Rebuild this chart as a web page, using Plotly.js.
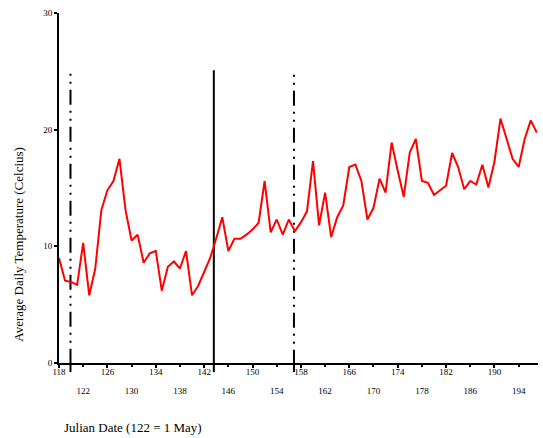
<!DOCTYPE html>
<html><head><meta charset="utf-8">
<script src="https://cdn.plot.ly/plotly-3.0.1.min.js"></script>
<style>html,body{margin:0;padding:0;background:#fff}#chart{width:543px;height:438px}</style>
</head><body><div id="chart"></div>
<script>
const days = [118,119,120,121,122,123,124,125,126,127,128,129,130,131,132,133,134,135,136,137,
  138,139,140,141,142,143,144,145,146,147,148,149,150,151,152,153,154,155,156,157,
  158,159,160,161,162,163,164,165,166,167,168,169,170,171,172,173,174,175,176,177,
  178,179,180,181,182,183,184,185,186,187,188,189,190,191,192,193,194,195,196,197];
const temps = [9.0,7.05,6.95,6.7,10.3,5.8,8.1,13.1,14.8,15.6,17.5,13.1,10.5,11.0,8.6,9.4,9.6,6.2,8.25,8.7,
  8.1,9.6,5.8,6.6,7.8,9.0,10.7,12.5,9.6,10.65,10.65,11.0,11.45,12.0,15.6,11.2,12.3,11.0,12.3,11.3,
  12.05,13.0,17.3,11.8,14.6,10.8,12.5,13.5,16.8,17.0,15.6,12.3,13.3,15.8,14.6,18.9,16.5,14.25,18.05,19.2,
  15.6,15.45,14.4,14.8,15.2,18.0,16.8,14.9,15.6,15.3,17.0,15.05,17.25,20.95,19.2,17.5,16.8,19.2,20.8,19.75];
const tickRow1 = [118,126,134,142,150,158,166,174,182,190];
const tickRow2 = [122,130,138,146,154,162,170,178,186,194];
const yTicks = [0,10,20,30];
const xRange = [118,197.2];
const yRange = [0,30];
const markerDays = [119.9,143.6,156.85];
const markerTops = [24.8,25.1,24.7];
const markerDash = ['2px,6px,2px,6px,15px,6px','solid','2px,6px,2px,6px,15px,6px'];
const yTitle = 'Average Daily Temperature (Celcius)';
const xTitle = 'Julian Date (122 = 1 May)';

const FONT = 'Liberation Serif, Times New Roman, serif';
const traces = [];
markerDays.forEach((d,i)=>{
  traces.push({x:[d,d], y:[markerTops[i],yRange[0]], mode:'lines', xaxis:'x', yaxis:'y',
    line:{color:'#000', width:2, dash:markerDash[i]}, hoverinfo:'skip', showlegend:false});
});
traces.push({x:days, y:temps, mode:'lines', line:{color:'#ff0000', width:2}, showlegend:false, xaxis:'x', yaxis:'y'});
traces.push({x:days, y:temps, mode:'lines', line:{color:'rgba(0,0,0,0)', width:0}, showlegend:false, xaxis:'x2', yaxis:'y', hoverinfo:'skip'});

const shapes = markerDays.map(d=>({type:'line', xref:'x', yref:'paper', x0:d, x1:d, y0:-0.026, y1:0,
  line:{color:'#000', width:2}}));

const axisCommon = {range:xRange, showgrid:false, zeroline:false, ticks:'outside', ticklen:3, tickwidth:2,
  tickcolor:'#000', tickfont:{family:FONT, size:9, color:'#000'}, tickmode:'array'};

const layout = {
  width:543, height:438, margin:{l:59, r:5, t:13, b:75},
  paper_bgcolor:'#fff', plot_bgcolor:'#fff', showlegend:false,
  font:{family:FONT, color:'#000'},
  xaxis: Object.assign({}, axisCommon, {tickvals:tickRow1, ticktext:tickRow1.map(String),
    showline:true, linecolor:'#000', linewidth:2, ticklabelstandoff:-4}),
  xaxis2: Object.assign({}, axisCommon, {tickvals:tickRow2, ticktext:tickRow2.map(String),
    overlaying:'x', anchor:'y', side:'bottom', showline:false, ticklabelstandoff:16}),
  yaxis: {range:yRange, showgrid:false, zeroline:false, showline:true, linecolor:'#000', linewidth:2,
    ticks:'outside', ticklen:3, tickwidth:2, tickcolor:'#000', tickmode:'array', tickvals:yTicks,
    ticktext:yTicks.map(String), tickfont:{family:FONT, size:9, color:'#000'}},
  shapes: shapes,
  annotations:[
    {text:yTitle, xref:'paper', yref:'paper', x:-0.0835, y:0.338, xanchor:'center', yanchor:'middle',
     textangle:-90, showarrow:false, font:{family:FONT, size:13, color:'#000'}},
    {text:xTitle, xref:'paper', yref:'paper', x:0.006, y:-0.185, xanchor:'left', yanchor:'middle',
     showarrow:false, font:{family:FONT, size:13, color:'#000'}}
  ]
};
Plotly.newPlot('chart', traces, layout, {displayModeBar:false, staticPlot:true});
</script></body></html>
